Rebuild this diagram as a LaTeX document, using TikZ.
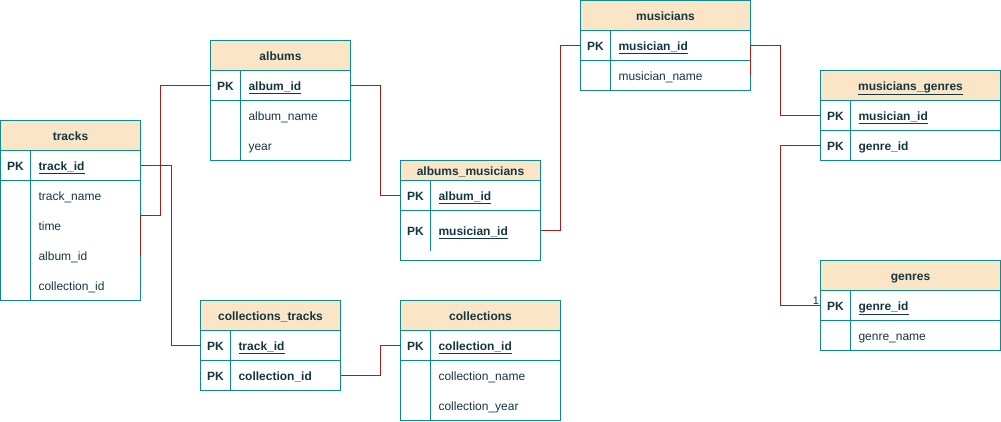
\documentclass[tikz,border=0pt,12pt]{standalone}
\usepackage{fontspec}
\setmainfont{Liberation Sans}
\definecolor{tableline}{HTML}{0F8B8D}
\definecolor{headfill}{HTML}{FAE5C7}
\definecolor{textdark}{HTML}{143642}
\definecolor{linkred}{HTML}{A8201A}
\tikzset{
  tbl/.style={draw=tableline, line width=1pt},
  hdr/.style={tbl, fill=headfill, font=\bfseries, text=textdark, anchor=north west, minimum height=30pt, inner sep=0pt, outer sep=0pt, text height=11pt, text depth=2pt},
  key/.style={font=\bfseries, text=textdark, anchor=north west, minimum width=30pt, minimum height=30pt, inner sep=0pt, outer sep=0pt, text height=11.5pt, text depth=1.5pt},
  fld/.style={text=textdark, anchor=north west, minimum height=30pt, inner xsep=8pt, inner ysep=0pt, outer sep=0pt, align=left, text height=11.5pt, text depth=1.5pt},
  link/.style={draw=linkred, line width=1pt},
}
\begin{document}
\begin{tikzpicture}[x=1pt,y=-1pt]
  \useasboundingbox (-0.5,-0.5) rectangle (1000.5,420.5);
  % tracks
  \node[hdr, minimum width=140pt] (tracks) at (0,120) {tracks};
  \draw[tbl] (0,120) rectangle (140,300);
  \draw[tbl] (0,180) -- (140,180) (30,150) -- (30,300);
  \node[key] (tracks-key) at (0,150) {PK};
  \node[fld, text width=94pt, font=\bfseries] (tracks-id) at (30,150) {\underline{track\_id}};
  \node[fld, text width=94pt] (tracks-name) at (30,180) {track\_name};
  \node[fld, text width=94pt] (tracks-time) at (30,210) {time};
  \node[fld, text width=94pt] (tracks-album) at (30,240) {album\_id};
  \node[fld, text width=94pt] (tracks-coll) at (30,270) {collection\_id};
  % albums
  \node[hdr, minimum width=140pt] (albums) at (210,40) {albums};
  \draw[tbl] (210,40) rectangle (350,160);
  \draw[tbl] (210,100) -- (350,100) (240,70) -- (240,160);
  \node[key] (albums-key) at (210,70) {PK};
  \node[fld, text width=94pt, font=\bfseries] (albums-id) at (240,70) {\underline{album\_id}};
  \node[fld, text width=94pt] (albums-name) at (240,100) {album\_name};
  \node[fld, text width=94pt] (albums-year) at (240,130) {year};
  % albums_musicians
  \node[hdr, minimum width=140pt, minimum height=20pt] (am) at (400,160) {albums\_musicians};
  \draw[tbl] (400,160) rectangle (540,260);
  \draw[tbl] (400,210) -- (540,210) (430,180) -- (430,250);
  \node[key] (am-key1) at (400,180) {PK};
  \node[fld, text width=94pt, font=\bfseries] (am-alb) at (430,180) {\underline{album\_id}};
  \node[key, minimum height=40pt] (am-key2) at (400,210) {PK};
  \node[fld, text width=94pt, minimum height=40pt, font=\bfseries] (am-mus) at (430,210) {\underline{musician\_id}};
  % musicians
  \node[hdr, minimum width=170pt] (mus) at (580,0) {musicians};
  \draw[tbl] (580,0) rectangle (750,90);
  \draw[tbl] (580,60) -- (750,60) (610,30) -- (610,90);
  \node[key] (mus-key) at (580,30) {PK};
  \node[fld, text width=124pt, font=\bfseries] (mus-id) at (610,30) {\underline{musician\_id}};
  \node[fld, text width=124pt] (mus-name) at (610,60) {musician\_name};
  % musicians_genres
  \node[hdr, minimum width=180pt] (mg) at (820,70) {\underline{musicians\_genres}};
  \draw[tbl] (820,70) rectangle (1000,160);
  \draw[tbl] (820,130) -- (1000,130) (850,100) -- (850,160);
  \node[key] (mg-key1) at (820,100) {PK};
  \node[fld, text width=134pt, font=\bfseries] (mg-mus) at (850,100) {\underline{musician\_id}};
  \node[key] (mg-key2) at (820,130) {PK};
  \node[fld, text width=134pt, font=\bfseries] (mg-gen) at (850,130) {genre\_id};
  % genres
  \node[hdr, minimum width=180pt] (gen) at (820,260) {genres};
  \draw[tbl] (820,260) rectangle (1000,350);
  \draw[tbl] (820,320) -- (1000,320) (850,290) -- (850,350);
  \node[key] (gen-key) at (820,290) {PK};
  \node[fld, text width=134pt, font=\bfseries] (gen-id) at (850,290) {\underline{genre\_id}};
  \node[fld, text width=134pt] (gen-name) at (850,320) {genre\_name};
  % collections_tracks
  \node[hdr, minimum width=140pt] (ct) at (200,300) {collections\_tracks};
  \draw[tbl] (200,300) rectangle (340,390);
  \draw[tbl] (200,360) -- (340,360) (230,330) -- (230,390);
  \node[key] (ct-key1) at (200,330) {PK};
  \node[fld, text width=94pt, font=\bfseries] (ct-trk) at (230,330) {\underline{track\_id}};
  \node[key] (ct-key2) at (200,360) {PK};
  \node[fld, text width=94pt, font=\bfseries] (ct-coll) at (230,360) {collection\_id};
  % collections
  \node[hdr, minimum width=160pt] (col) at (400,300) {collections};
  \draw[tbl] (400,300) rectangle (560,420);
  \draw[tbl] (400,360) -- (560,360) (430,330) -- (430,420);
  \node[key] (col-key) at (400,330) {PK};
  \node[fld, text width=114pt, font=\bfseries] (col-id) at (430,330) {\underline{collection\_id}};
  \node[fld, text width=114pt] (col-name) at (430,360) {collection\_name};
  \node[fld, text width=114pt] (col-year) at (430,390) {collection\_year};
  % links
  \draw[link] (tracks-album.east) -- ++(0,-40) -- ++(20,0) |- (albums-key.west);
  \draw[link] (tracks-id.east) -- ++(31,0) |- (ct-key1.west);
  \draw[link] (albums-id.east) -- ++(30,0) |- (am-key1.west);
  \draw[link] (am-mus.east) -- ++(20,0) |- (mus-key.west);
  \draw[link] (mus-name.east) -- (mus-id.east) -- ++(30,0) |- (mg-key1.west);
  \draw[link] (mg-key2.west) -- ++(-40,0) |- (gen-key.west)
    node[above left, inner sep=1pt, text=textdark, font=\small] {1};
  \draw[link] (ct-coll.east) -- ++(40,0) |- (col-key.west);
\end{tikzpicture}
\end{document}
